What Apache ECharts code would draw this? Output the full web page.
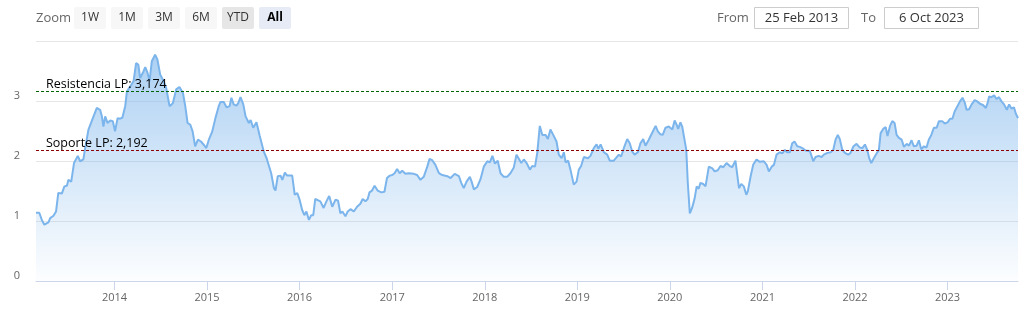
<!DOCTYPE html>
<html>
<head>
<meta charset="utf-8">
<script src="https://cdn.jsdelivr.net/npm/echarts@6/dist/echarts.min.js"></script>
<style>
html,body{margin:0;padding:0;background:#fff;}
#chart{width:1025px;height:311px;}
</style>
</head>
<body>
<div id="chart"></div>
<script>
const dates = [
"2013-02-25","2013-03-10","2013-03-20","2013-03-30","2013-04-15","2013-04-22","2013-05-05","2013-05-15","2013-05-24","2013-06-07",
"2013-06-17","2013-06-27","2013-07-03","2013-07-14","2013-07-25","2013-08-09","2013-08-18","2013-08-31","2013-09-07","2013-09-20",
"2013-10-10","2013-10-23","2013-11-05","2013-11-12","2013-11-18","2013-11-25","2013-12-04","2013-12-15","2013-12-25",
"2014-01-03","2014-01-13","2014-01-23","2014-02-01","2014-02-12","2014-02-19","2014-03-04","2014-03-17","2014-03-27","2014-04-05",
"2014-04-12","2014-04-25","2014-05-02","2014-05-11","2014-05-19","2014-05-28","2014-06-10","2014-06-19","2014-06-30","2014-07-13",
"2014-07-24","2014-08-06","2014-08-19","2014-09-01","2014-09-14","2014-09-28","2014-10-07","2014-10-16","2014-10-27","2014-11-05",
"2014-11-15","2014-11-26","2014-12-08","2014-12-18","2014-12-29",
"2015-01-08","2015-01-21","2015-02-03","2015-02-16","2015-02-23","2015-03-08","2015-03-19","2015-03-31","2015-04-07","2015-04-16",
"2015-04-27","2015-05-04","2015-05-13","2015-05-24","2015-06-02","2015-06-15","2015-06-22","2015-07-02","2015-07-15","2015-07-28",
"2015-08-13","2015-08-24","2015-09-11","2015-09-22","2015-09-28","2015-10-07","2015-10-18","2015-10-25","2015-11-04","2015-11-13",
"2015-12-03","2015-12-13","2015-12-23",
"2016-01-01","2016-01-11","2016-01-20","2016-01-28","2016-02-07","2016-02-16","2016-02-24","2016-03-03","2016-03-10","2016-03-23",
"2016-04-05","2016-04-16","2016-04-27","2016-05-09","2016-05-22","2016-06-01","2016-06-10","2016-06-18","2016-06-30","2016-07-09",
"2016-07-20","2016-08-02","2016-08-15","2016-08-28","2016-09-06","2016-09-17","2016-09-26","2016-10-03","2016-10-13","2016-10-23",
"2016-11-04","2016-11-19","2016-12-01","2016-12-11","2016-12-22",
"2017-01-01","2017-01-10","2017-01-20","2017-01-30","2017-02-09","2017-02-22","2017-03-07","2017-03-27","2017-04-09","2017-04-22",
"2017-05-05","2017-05-19","2017-05-28","2017-06-07","2017-06-20","2017-07-04","2017-07-17","2017-08-06","2017-08-19","2017-09-04",
"2017-09-21","2017-09-30","2017-10-10","2017-10-21","2017-11-03","2017-11-10","2017-11-19","2017-12-02","2017-12-15","2017-12-28",
"2018-01-11","2018-01-21","2018-01-31","2018-02-10","2018-02-21","2018-03-04","2018-03-17","2018-03-30","2018-04-12","2018-04-25",
"2018-05-06","2018-05-13","2018-05-25","2018-06-04","2018-06-15","2018-06-28","2018-07-07","2018-07-18","2018-07-27","2018-08-06",
"2018-08-16","2018-08-29","2018-09-07","2018-09-17","2018-09-28","2018-10-11","2018-10-20","2018-10-31","2018-11-09","2018-11-16",
"2018-11-26","2018-12-05","2018-12-18","2018-12-29",
"2019-01-07","2019-01-16","2019-01-27","2019-02-12","2019-02-22","2019-03-07","2019-03-18","2019-03-25","2019-04-03","2019-04-16",
"2019-04-29","2019-05-09","2019-05-25","2019-06-01","2019-06-14","2019-06-23","2019-07-06","2019-07-17","2019-07-27","2019-08-06",
"2019-08-15","2019-08-28","2019-09-07","2019-09-18","2019-09-27","2019-10-10","2019-10-24","2019-11-06","2019-11-15","2019-11-25",
"2019-12-04","2019-12-15","2019-12-28",
"2020-01-11","2020-01-20","2020-01-28","2020-02-03","2020-02-12","2020-02-19","2020-02-28","2020-03-06","2020-03-12","2020-03-20",
"2020-03-29","2020-04-08","2020-04-16","2020-04-24","2020-05-01","2020-05-12","2020-05-21","2020-06-03","2020-06-17","2020-06-26",
"2020-07-08","2020-07-19","2020-07-30","2020-08-12","2020-08-25","2020-09-03","2020-09-16","2020-09-23","2020-09-30","2020-10-09",
"2020-10-19","2020-10-29","2020-11-04","2020-11-15","2020-11-25","2020-12-08","2020-12-21",
"2021-01-06","2021-01-17","2021-01-26","2021-02-06","2021-02-15","2021-02-25","2021-03-10","2021-03-20","2021-03-30","2021-04-08",
"2021-04-19","2021-04-28","2021-05-07","2021-05-18","2021-05-28","2021-06-07","2021-06-20","2021-07-07","2021-07-20","2021-07-29",
"2021-08-11","2021-08-22","2021-08-31","2021-09-14","2021-09-27","2021-10-07","2021-10-16","2021-10-25","2021-11-02","2021-11-11",
"2021-11-22","2021-12-05","2021-12-14","2021-12-26",
"2022-01-07","2022-01-19","2022-01-30","2022-02-09","2022-02-18","2022-02-26","2022-03-06","2022-03-16","2022-03-27","2022-04-05",
"2022-04-12","2022-04-22","2022-05-02","2022-05-09","2022-05-19","2022-05-28","2022-06-06","2022-06-14","2022-06-23","2022-07-04",
"2022-07-13","2022-07-24","2022-08-02","2022-08-12","2022-08-21","2022-09-01","2022-09-10","2022-09-19","2022-09-30","2022-10-10",
"2022-10-19","2022-10-29","2022-11-08","2022-11-19","2022-11-28","2022-12-11","2022-12-21",
"2023-01-01","2023-01-11","2023-01-20","2023-01-29","2023-02-09","2023-02-19","2023-03-01","2023-03-10","2023-03-17","2023-03-27",
"2023-04-06","2023-04-18","2023-04-28","2023-05-09","2023-05-21","2023-06-01","2023-06-08","2023-06-14","2023-06-23","2023-07-04",
"2023-07-13","2023-07-23","2023-08-02","2023-08-12","2023-08-23","2023-09-01","2023-09-10","2023-09-20","2023-09-28","2023-10-06"
];
const values = [
1.14,1.14,1.02,0.94,0.98,1.05,1.09,1.16,1.47,1.46,
1.58,1.59,1.69,1.66,1.97,2.09,2.00,2.03,2.22,2.53,
2.75,2.89,2.86,2.75,2.58,2.75,2.64,2.68,2.67,
2.50,2.72,2.71,2.73,2.92,3.17,3.25,3.34,3.64,3.61,
3.39,3.50,3.57,3.48,3.34,3.67,3.78,3.70,3.45,3.34,
3.22,2.92,2.97,3.20,3.24,3.14,2.92,2.64,2.61,2.50,
2.25,2.36,2.33,2.28,2.22,
2.36,2.49,2.72,2.92,2.99,2.99,2.90,2.92,3.06,2.95,
2.93,2.97,3.07,2.95,2.75,2.64,2.69,2.56,2.65,2.42,
2.16,2.05,1.80,1.55,1.51,1.75,1.76,1.69,1.81,1.76,
1.76,1.44,1.47,
1.36,1.19,1.10,1.16,1.02,1.10,1.10,1.37,1.40,1.33,
1.22,1.33,1.42,1.24,1.36,1.34,1.13,1.16,1.08,1.16,
1.20,1.16,1.24,1.29,1.37,1.33,1.37,1.48,1.51,1.59,
1.51,1.48,1.49,1.72,1.76,
1.77,1.80,1.87,1.80,1.84,1.79,1.80,1.79,1.77,1.69,
1.74,1.91,2.04,2.02,1.94,1.80,1.77,1.75,1.72,1.79,
1.75,1.64,1.55,1.66,1.74,1.66,1.53,1.57,1.70,1.91,
2.00,1.98,2.09,1.96,2.01,1.80,1.74,1.74,1.80,1.89,
2.11,2.14,1.97,2.03,1.97,1.86,1.92,1.91,2.14,2.59,
2.44,2.44,2.37,2.53,2.44,2.33,2.11,2.05,2.15,1.98,
2.01,1.86,1.61,1.66,
1.86,1.92,2.07,2.05,2.09,2.22,2.28,2.21,2.28,2.15,
2.11,2.01,2.01,1.99,2.11,2.08,2.25,2.37,2.30,2.16,
2.11,2.15,2.30,2.37,2.26,2.36,2.48,2.59,2.50,2.45,
2.44,2.56,2.58,
2.53,2.68,2.61,2.54,2.65,2.58,2.36,2.19,1.64,1.13,
1.22,1.38,1.58,1.54,1.64,1.62,1.58,1.91,1.88,1.83,
1.85,1.92,1.90,1.97,1.92,1.90,2.01,1.98,1.55,1.62,
1.58,1.44,1.50,1.75,1.94,2.03,1.99,
2.00,1.94,1.83,1.91,1.94,2.11,2.15,2.13,2.19,2.15,
2.15,2.30,2.33,2.25,2.24,2.22,2.18,2.17,2.00,2.07,
2.09,2.07,2.11,2.14,2.15,2.19,2.36,2.44,2.37,2.20,
2.14,2.11,2.14,2.25,
2.29,2.23,2.22,2.28,2.19,2.05,1.97,2.05,2.13,2.19,
2.47,2.54,2.57,2.42,2.59,2.67,2.64,2.44,2.39,2.36,
2.24,2.29,2.26,2.35,2.25,2.26,2.35,2.20,2.25,2.23,
2.36,2.44,2.56,2.56,2.67,2.67,2.63,
2.65,2.71,2.71,2.83,2.92,3.00,3.06,2.98,2.86,2.87,
2.95,3.02,3.00,2.96,2.94,2.89,2.97,3.08,3.07,3.10,
3.04,3.07,3.00,2.95,2.86,2.95,2.88,2.90,2.79,2.72
];
const yearTicks = ["2014-01-01","2015-01-01","2016-01-01","2017-01-01","2018-01-01","2019-01-01","2020-01-01","2021-01-01","2022-01-01","2023-01-01"];
const yTicks = [0,1,2,3,4];
const resistencia = 3.174;
const soporte = 2.192;
const rangeFrom = "25 Feb 2013";
const rangeTo = "6 Oct 2023";
const xMin = "2013-02-25";
const xMax = "2023-10-06";
const zoomButtons = ["1W","1M","3M","6M","YTD","All"];

const FONT = '"Open Sans", "Liberation Sans", Arial, sans-serif';
const ts = (d)=>{ const p = d.split('-').map(Number); return Date.UTC(p[0], p[1]-1, p[2]); };
const chart = echarts.init(document.getElementById('chart'), null, {renderer:'canvas'});
const seriesData = dates.map((d,i)=>[ts(d), values[i]]);
const tickValues = yearTicks.map(ts);

const graphics = [];
graphics.push({type:'text', x:36, y:18, style:{text:'Zoom', fill:'#666', font:'13px ' + FONT, verticalAlign:'middle'}});
const btnX = [74,111,148,185,222,259];
zoomButtons.forEach((b,i)=>{
  let fill = '#f7f7f7', weight = 'normal', color = '#333';
  if (b === 'YTD') fill = '#e6e6e6';
  if (b === 'All') { fill = '#e6ebf5'; weight = 'bold'; color = '#000'; }
  graphics.push({type:'rect', shape:{x:btnX[i], y:7, width:32, height:22, r:2}, style:{fill:fill}});
  graphics.push({type:'text', x:btnX[i]+16, y:18, style:{text:b, fill:color, font: weight + ' 12px ' + FONT, align:'center', verticalAlign:'middle'}});
});
graphics.push({type:'text', x:717, y:18, style:{text:'From', fill:'#666', font:'13px ' + FONT, verticalAlign:'middle'}});
graphics.push({type:'rect', shape:{x:754.5, y:7.5, width:94, height:21}, style:{fill:'#fff', stroke:'#ccc', lineWidth:1}});
graphics.push({type:'text', x:801.5, y:18, style:{text:rangeFrom, fill:'#333', font:'13px ' + FONT, align:'center', verticalAlign:'middle'}});
graphics.push({type:'text', x:861, y:18, style:{text:'To', fill:'#666', font:'13px ' + FONT, verticalAlign:'middle'}});
graphics.push({type:'rect', shape:{x:884.5, y:7.5, width:94, height:21}, style:{fill:'#fff', stroke:'#ccc', lineWidth:1}});
graphics.push({type:'text', x:931.5, y:18, style:{text:rangeTo, fill:'#333', font:'13px ' + FONT, align:'center', verticalAlign:'middle'}});

chart.setOption({
  animation:false,
  backgroundColor:'#fff',
  grid:{left:36, right:7, top:41.5, bottom:30, containLabel:false},
  xAxis:{
    type:'value',
    min:ts(xMin), max:ts(xMax),
    axisLine:{show:true, lineStyle:{color:'#ccd6eb', width:1}},
    axisTick:{show:true, length:9, lineStyle:{color:'#ccd6eb'}, customValues:tickValues},
    axisLabel:{color:'#666', fontSize:11, fontFamily:FONT, margin:11, customValues:tickValues,
      formatter:(v)=>String(new Date(v).getUTCFullYear())},
    splitLine:{show:false}
  },
  yAxis:{
    type:'value', min:0, max:4, interval:1,
    axisLine:{show:false}, axisTick:{show:false},
    axisLabel:{color:'#666', fontSize:11, fontFamily:FONT, margin:16, verticalAlign:'bottom',
      formatter:(v)=> (v===4 ? '' : String(v))},
    splitLine:{show:true, lineStyle:{color:'#e6e6e6', width:1}}
  },
  series:[{
    type:'line',
    data:seriesData,
    showSymbol:false,
    symbol:'none',
    lineStyle:{color:'#7cb5ec', width:2},
    itemStyle:{color:'#7cb5ec'},
    areaStyle:{
      color:new echarts.graphic.LinearGradient(0,0,0,1,[
        {offset:0, color:'rgba(124,181,236,0.9)'},
        {offset:1, color:'rgba(124,181,236,0.03)'}
      ])
    },
    markLine:{
      silent:true,
      symbol:['none','none'],
      animation:false,
      data:[
        {yAxis:resistencia, lineStyle:{color:'#006400', type:[3,2], width:1},
          label:{formatter:'Resistencia LP: ' + String(resistencia).replace('.', ',')}},
        {yAxis:soporte, lineStyle:{color:'#8b0000', type:[3,2], width:1},
          label:{formatter:'Soporte LP: ' + String(soporte).replace('.', ',')}}
      ],
      label:{show:true, position:'insideStartTop', distance:[10,0], color:'#000', fontSize:12.5, fontFamily:FONT}
    }
  }],
  graphic:graphics
});
</script>
</body>
</html>
